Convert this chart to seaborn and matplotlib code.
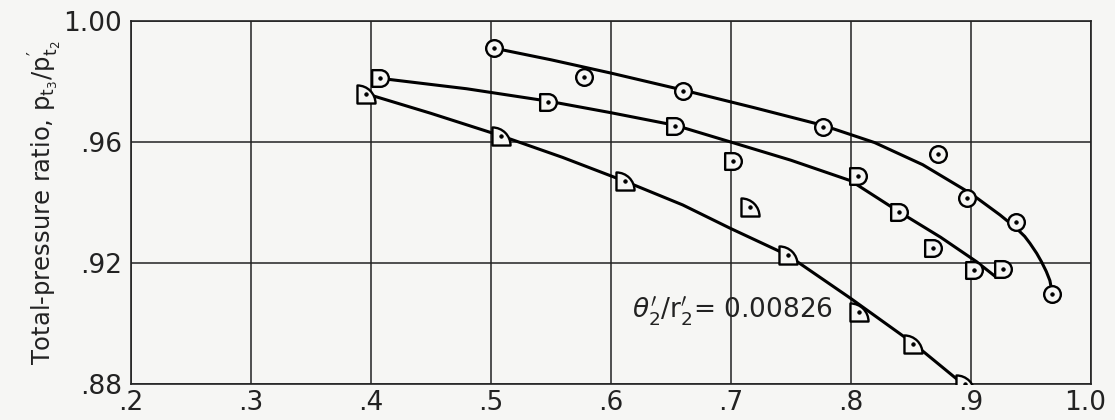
import numpy as np
import pandas as pd
import matplotlib
matplotlib.use("Agg")
import matplotlib.pyplot as plt
import matplotlib.transforms as mtransforms
from matplotlib.path import Path
import seaborn as sns

# ---- data ----
circle_x = [0.503, 0.578, 0.6605, 0.777, 0.873, 0.897, 0.938, 0.9675]
circle_y = [0.991, 0.9814, 0.977, 0.965, 0.956, 0.9416, 0.9337, 0.9097]

square_x = [0.408, 0.548, 0.654, 0.702, 0.806, 0.840, 0.869, 0.903, 0.927]
square_y = [0.981, 0.9733, 0.9654, 0.9538, 0.9488, 0.937, 0.9251, 0.9177, 0.918]

tri_x = [0.396, 0.509, 0.612, 0.716, 0.7475, 0.807, 0.852, 0.895]
tri_y = [0.976, 0.962, 0.947, 0.9384, 0.9226, 0.9039, 0.8932, 0.880]

# faired curves
circle_curve_x = [0.508, 0.55, 0.60, 0.66, 0.72, 0.777, 0.82, 0.86, 0.90, 0.9244, 0.938, 0.945, 0.9494, 0.955, 0.959, 0.963, 0.966, 0.9675]
circle_curve_y = [0.9906, 0.9872, 0.9828, 0.9772, 0.9713, 0.9655, 0.9598, 0.9525, 0.9430, 0.9359, 0.9315, 0.9288, 0.9265, 0.9232, 0.9204, 0.9172, 0.9142, 0.911]

square_curve_x = [0.413, 0.48, 0.548, 0.60, 0.654, 0.70, 0.75, 0.80, 0.84, 0.875, 0.905, 0.920, 0.927]
square_curve_y = [0.9808, 0.9776, 0.9735, 0.9697, 0.9655, 0.9600, 0.9540, 0.9472, 0.9370, 0.9285, 0.9204, 0.9157, 0.918]

tri_curve_x = [0.40, 0.45, 0.509, 0.56, 0.612, 0.66, 0.70, 0.7475, 0.80, 0.852, 0.891]
tri_curve_y = [0.9755, 0.9695, 0.962, 0.9549, 0.947, 0.9392, 0.9314, 0.9226, 0.9083, 0.8935, 0.8808]

x_ticks = [0.2, 0.3, 0.4, 0.5, 0.6, 0.7, 0.8, 0.9, 1.0]
x_tick_labels = [".2", ".3", ".4", ".5", ".6", ".7", ".8", ".9", "1.0"]
y_ticks = [0.88, 0.92, 0.96, 1.00]
y_tick_labels = [".88", ".92", ".96", "1.00"]

y_label = r"Total-pressure ratio, $\mathregular{p_{t_3}/p_{t_2}'}$"
note_text = r"$\theta_2'/\mathregular{r}_2'$= 0.00826"

# ---- style ----
sns.set_theme(style="white")
plt.rcParams['font.family'] = ['DejaVu Sans']
plt.rcParams['mathtext.fontset'] = 'dejavusans'

bg = '#f6f6f4'
fig = plt.figure(figsize=(11.15, 4.2), dpi=100, facecolor=bg)
ax = fig.add_axes([0.1172, 0.0857, 0.8610, 0.8643])
ax.set_facecolor(bg)

# custom markers
arc = Path.arc(-90, 90)
d_verts = list(arc.vertices) + [(-1, 1), (-1, -1), (0, -1)]
d_codes = list(arc.codes) + [Path.LINETO, Path.LINETO, Path.CLOSEPOLY]
d_marker = Path(d_verts, d_codes)

qarc = Path.arc(0, 90)
q_verts = [tuple(v * 2 - 1) for v in qarc.vertices] + [(-1, -1), (1, -1)]
q_codes = list(qarc.codes) + [Path.LINETO, Path.CLOSEPOLY]
q_marker = Path(q_verts, q_codes)

line_kw = dict(color='black', lw=2.2, sort=False, estimator=None, ax=ax, zorder=3)
sns.lineplot(x=circle_curve_x, y=circle_curve_y, **line_kw)
sns.lineplot(x=square_curve_x, y=square_curve_y, **line_kw)
sns.lineplot(x=tri_curve_x, y=tri_curve_y, **line_kw)

mk_kw = dict(linestyle='', mfc=bg, mec='black', mew=1.7, sort=False, estimator=None, ax=ax, zorder=4)
sns.lineplot(x=circle_x, y=circle_y, marker='o', ms=12, **mk_kw)
sns.lineplot(x=square_x, y=square_y, marker=d_marker, ms=12, **mk_kw)
sns.lineplot(x=tri_x, y=tri_y, marker=q_marker, ms=13, **mk_kw)

dot_kw = dict(linestyle='', marker='o', ms=2.4, mfc='black', mec='black', sort=False, estimator=None, ax=ax, zorder=5)
for xs, ys in [(circle_x, circle_y), (square_x, square_y), (tri_x, tri_y)]:
    sns.lineplot(x=xs, y=ys, **dot_kw)

ax.set_xlim(0.2, 1.0)
ax.set_ylim(0.88, 1.00)
ax.set_xticks(x_ticks, labels=x_tick_labels)
ax.set_yticks(y_ticks, labels=y_tick_labels)
ax.tick_params(axis='both', length=0, labelsize=19, colors='#222222')
ax.tick_params(axis='x', pad=4)
ax.tick_params(axis='y', pad=6)
ax.grid(True, color='#222222', lw=1.1)
ax.set_axisbelow(True)
for s in ax.spines.values():
    s.set_color('#222222')
    s.set_linewidth(1.2)

# nudge the last x label so it stays inside the figure
last = ax.get_xticklabels()[-1]
last.set_transform(last.get_transform() + mtransforms.ScaledTranslation(-6 / 100, 0, fig.dpi_scale_trans))

ax.set_xlabel("")
ax.set_ylabel(y_label, fontsize=17.5, labelpad=0, color='#222222')
ax.text(0.6175, 0.9039, note_text, fontsize=19, va='center', ha='left', color='#222222', zorder=6)

fig.savefig("out.png", dpi=100, facecolor=bg)
